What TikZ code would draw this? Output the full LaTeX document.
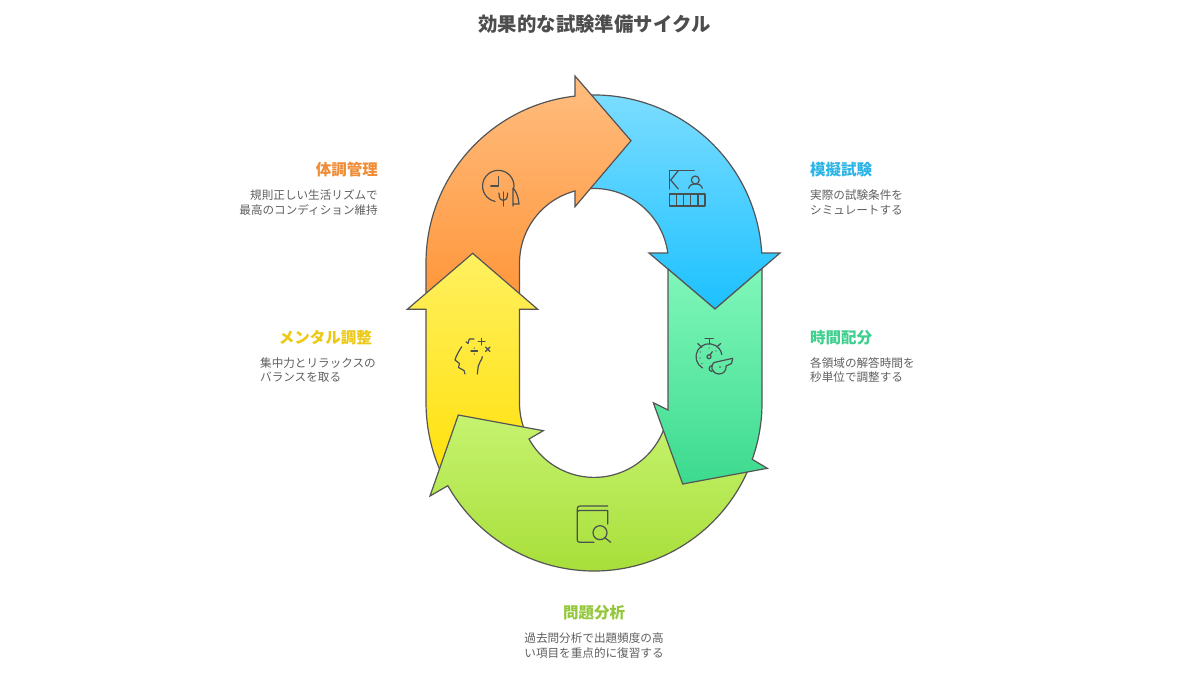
\documentclass[tikz,border=0pt]{standalone}
\usepackage{fontspec}
\setmainfont{Noto Sans CJK JP}
\definecolor{edgegray}{HTML}{555555}
\definecolor{icongray}{HTML}{4A4F50}
\definecolor{titlegray}{HTML}{4D4D4D}
\definecolor{bodygray}{HTML}{606060}
\definecolor{headorange}{HTML}{F08C35}
\definecolor{headblue}{HTML}{2BB4E6}
\definecolor{headteal}{HTML}{3FCF8E}
\definecolor{headlime}{HTML}{93C83A}
\definecolor{headyellow}{HTML}{EBC916}
\tikzset{
  x=1pt,y=1pt,
  band/.style={draw=edgegray,line width=1.2pt,line join=miter},
  iconline/.style={draw=icongray,line width=1.2pt,line cap=round,line join=round,fill=none},
  headtext/.style={font=\fontsize{15.5}{18}\selectfont\bfseries,inner sep=0pt},
  bodytext/.style={font=\fontsize{11.6}{14.5}\selectfont,text=bodygray,inner sep=0pt},
}
\begin{document}
\begin{tikzpicture}
\useasboundingbox (0,0) rectangle (1200,-675);
\fill[white] (0,0) rectangle (1200,-675);
% blue
\path[band,top color={rgb,255:red,125;green,221;blue,255},bottom color={rgb,255:red,28;green,193;blue,255}]
  (579.4,-95.6) arc[start angle=95,end angle=3.4,radius=168] -- (780,-253) -- (715,-309) -- (649,-253) -- (667.8,-253)
  arc[start angle=7.7,end angle=95,radius=74.5] -- cycle;
% orange
\path[band,top color={rgb,255:red,255;green,189;blue,128},bottom color={rgb,255:red,255;green,150;blue,58}]
  (426,-300) -- (426,-263) arc[start angle=180,end angle=96.5,radius=168] -- (575,-76) -- (631,-140.7) -- (575,-206.7) -- (575,-191)
  arc[start angle=104.8,end angle=180,radius=74.5] -- (519.5,-300) -- cycle;
% yellow
\path[band,top color={rgb,255:red,255;green,240;blue,96},bottom color={rgb,255:red,255;green,224;blue,10}]
  (445.7,-481.9) arc[start angle=208,end angle=180,radius=168] -- (426,-309.3) -- (407.3,-309.3) -- (472.7,-253.3) -- (537.7,-309.3) -- (519.5,-309.3) -- (519.5,-403)
  arc[start angle=180,end angle=200,radius=74.5] -- cycle;
% lime
\path[band,top color={rgb,255:red,198;green,243;blue,112},bottom color={rgb,255:red,164;green,220;blue,50}]
  (749.8,-465.9) arc[start angle=-22,end angle=-150.5,radius=168] -- (430,-496) -- (458.3,-415) -- (543.3,-430.7) -- (529,-439)
  arc[start angle=-151,end angle=-15,radius=74.5] -- cycle;
% teal
\path[band,top color={rgb,255:red,128;green,247;blue,186},bottom color={rgb,255:red,60;green,218;blue,142}]
  (668,-269) -- (715,-309) -- (762,-268.5) -- (762,-403) arc[start angle=0,end angle=-19.6,radius=168] -- (767.3,-468.3) -- (682.7,-484) -- (653.3,-402.7) -- (668,-410) -- cycle;

% icon orange
\draw[iconline] (495,-201.4) arc[start angle=258,end angle=-8,radius=15.7];
\draw[iconline] (498.3,-176.7) -- (498.3,-186) -- (490.7,-186);
\draw[iconline] (499,-193) .. controls (499,-199) and (501,-200.5) .. (503.3,-200.5) .. controls (505.6,-200.5) and (507.6,-199) .. (507.6,-193);
\draw[iconline] (503.3,-192) -- (503.3,-206);
\draw[iconline] (513,-206) -- (513,-188) .. controls (516,-191) and (518.5,-197) .. (519,-204) -- (513,-204);
% icon blue
\draw[iconline] (694.3,-170.7) -- (669.3,-170.7) -- (669.3,-189);
\draw[iconline] (678.3,-170.7) -- (670.7,-180) -- (678.3,-189);
\draw[iconline] (695.3,-180) circle[radius=4];
\draw[iconline] (688.7,-188.3) .. controls (689.5,-185) and (692,-184) .. (695.5,-184) .. controls (699,-184) and (701.5,-185) .. (702.3,-188.3);
\draw[iconline] (669.3,-194) rectangle (705,-206);
\foreach \ix in {676.5,683.5,690.5,698} \draw[iconline] (\ix,-194) -- (\ix,-206);
% icon teal
\draw[iconline] (702.5,-368) arc[start angle=240,end angle=10,radius=13];
\draw[iconline] (705,-338.7) -- (713.3,-338.7) (709.3,-338.7) -- (709.3,-344);
\draw[iconline] (697.7,-343.5) -- (702,-347.5) (716.7,-347) -- (720.7,-343.5);
\draw[iconline] (710,-355) -- (712.3,-351.7);
\draw[iconline] (709,-356.7) circle[radius=2];
\draw[iconline] (732.7,-358.3) -- (714,-362.5) .. controls (710,-365) and (711,-373.5) .. (719,-374) .. controls (724,-374) and (726.5,-370) .. (726,-366) -- (731.5,-363.5) -- cycle;
\draw[iconline] (712.5,-365.5) .. controls (708,-366) and (708,-371) .. (712,-371.5);
\fill[icongray] (720,-367) circle[radius=.9] (700.5,-352) circle[radius=.6] (700,-358) circle[radius=.6] (702,-363.5) circle[radius=.6] (709,-348) circle[radius=.6] (716,-351) circle[radius=.6];
% icon yellow
\draw[iconline] (461.7,-346.7) .. controls (459,-351) and (456,-356) .. (455,-360) -- (459.5,-363.5) -- (458.5,-367.5) -- (464,-370.5) -- (465,-374);
\draw[iconline] (482.3,-356.7) .. controls (482,-361) and (478.5,-362) .. (478.3,-366) -- (477.3,-374);
\draw[iconline] (466,-341.7) -- (468,-343.5) -- (469.3,-339) -- (474,-339);
\draw[iconline] (478.2,-341.7) -- (485,-341.7) (481.7,-338.3) -- (481.7,-345);
\draw[iconline] (485.5,-347) -- (490,-351.5) (490,-347) -- (485.5,-351.5);
\draw[iconline] (471,-351) -- (477.5,-351);
\fill[icongray] (474.3,-348) circle[radius=.7] (474.3,-354) circle[radius=.7];
% icon lime
\draw[iconline] (594,-542.3) -- (580,-542.3) .. controls (578,-542.3) and (577.3,-541.5) .. (577.3,-540) -- (577.3,-509) .. controls (577.3,-507) and (578,-506) .. (580,-506) -- (607.7,-506);
\draw[iconline] (577.3,-512) .. controls (577.5,-511) and (578.5,-510.5) .. (580,-510.5) -- (607.7,-510.5) -- (607.7,-524);
\draw[iconline] (600,-532.7) circle[radius=7];
\draw[iconline] (605,-537.8) -- (610.7,-542.3);

% texts
\node[font=\fontsize{19.4}{22}\selectfont\bfseries,text=titlegray,inner sep=0pt] (title) at (594.5,-24) {効果的な試験準備サイクル};

\node[headtext,text=headorange,anchor=east] (h1) at (378,-170) {体調管理};
\node[bodytext,anchor=east,align=right] (b1) at (378,-202.5) {規則正しい生活リズムで\\最高のコンディション維持};

\node[headtext,text=headblue,anchor=west] (h2) at (810,-170) {模擬試験};
\node[bodytext,anchor=west,align=left] (b2) at (810,-202.5) {実際の試験条件を\\シミュレートする};

\node[headtext,text=headyellow,anchor=east] (h3) at (372,-338) {メンタル調整};
\node[bodytext,anchor=east,align=left] (b3) at (376,-370) {集中力とリラックスの\\バランスを取る};

\node[headtext,text=headteal,anchor=west] (h4) at (810,-338) {時間配分};
\node[bodytext,anchor=west,align=left] (b4) at (810,-370) {各領域の解答時間を\\秒単位で調整する};

\node[headtext,text=headlime] (h5) at (594,-613) {問題分析};
\node[bodytext,align=center] (b5) at (594,-645.5) {過去問分析で出題頻度の高\\い項目を重点的に復習する};
\end{tikzpicture}
\end{document}
